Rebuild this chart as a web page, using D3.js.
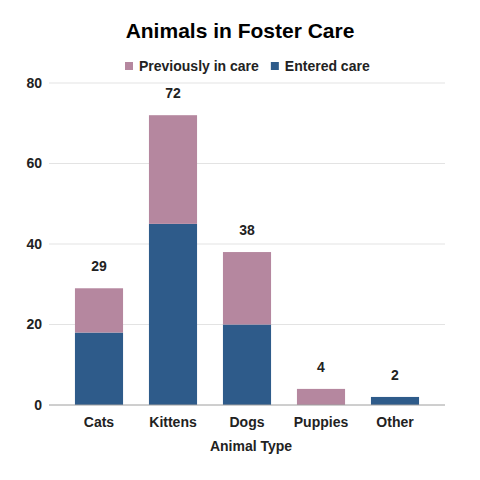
<!DOCTYPE html>
<html>
<head>
<meta charset="utf-8">
<script src="https://cdn.jsdelivr.net/npm/d3@7"></script>
<style>
  body { margin: 0; background: #fff; }
  text { font-family: "Liberation Sans", Arial, sans-serif; }
</style>
</head>
<body>
<svg id="chart" width="480" height="480"></svg>
<script>
const categories = ['Cats', 'Kittens', 'Dogs', 'Puppies', 'Other'];
const enteredCare = [18, 45, 20, 0, 2];
const previouslyInCare = [11, 27, 18, 4, 0];
const yTicks = [0, 20, 40, 60, 80];

const seriesNames = ['Previously in care', 'Entered care'];
const colors = { entered: '#2e5b8a', previous: '#b5879f' };

const svg = d3.select('#chart');

const x = d3.scaleBand()
    .domain(categories)
    .range([62, 432])
    .paddingInner(0.35)
    .paddingOuter(0.175);

const y = d3.scaleLinear()
    .domain([0, 80])
    .range([405, 83]);

// gridlines
svg.append('g')
    .selectAll('line')
    .data(yTicks.filter(d => d > 0))
    .enter()
    .append('line')
    .attr('x1', 49)
    .attr('x2', 445)
    .attr('y1', d => y(d))
    .attr('y2', d => y(d))
    .attr('stroke', '#e3e3e3')
    .attr('stroke-width', 1);

// y tick labels
svg.append('g')
    .selectAll('text')
    .data(yTicks)
    .enter()
    .append('text')
    .attr('x', 42)
    .attr('y', d => y(d))
    .attr('dy', '0.35em')
    .attr('text-anchor', 'end')
    .attr('font-size', 14)
    .attr('font-weight', 'bold')
    .attr('fill', '#222')
    .text(d => d);

const rows = categories.map((c, i) => ({
    cat: c,
    entered: enteredCare[i],
    previous: previouslyInCare[i]
}));

// entered care (bottom)
svg.append('g')
    .selectAll('rect')
    .data(rows.filter(d => d.entered > 0))
    .enter()
    .append('rect')
    .attr('x', d => x(d.cat))
    .attr('width', x.bandwidth())
    .attr('y', d => y(d.entered))
    .attr('height', d => y(0) - y(d.entered))
    .attr('fill', colors.entered);

// previously in care (top)
svg.append('g')
    .selectAll('rect')
    .data(rows.filter(d => d.previous > 0))
    .enter()
    .append('rect')
    .attr('x', d => x(d.cat))
    .attr('width', x.bandwidth())
    .attr('y', d => y(d.entered + d.previous))
    .attr('height', d => y(d.entered) - y(d.entered + d.previous))
    .attr('fill', colors.previous);

// totals
svg.append('g')
    .selectAll('text')
    .data(rows)
    .enter()
    .append('text')
    .attr('x', d => x(d.cat) + x.bandwidth() / 2)
    .attr('y', d => y(d.entered + d.previous) - 22)
    .attr('dy', '0.35em')
    .attr('text-anchor', 'middle')
    .attr('font-size', 14)
    .attr('font-weight', 'bold')
    .attr('fill', '#222')
    .text(d => d.entered + d.previous);

// baseline
svg.append('line')
    .attr('x1', 49)
    .attr('x2', 445)
    .attr('y1', y(0))
    .attr('y2', y(0))
    .attr('stroke', '#9e9e9e')
    .attr('stroke-width', 1);

// x tick labels
svg.append('g')
    .selectAll('text')
    .data(categories)
    .enter()
    .append('text')
    .attr('x', d => x(d) + x.bandwidth() / 2)
    .attr('y', 422)
    .attr('dy', '0.35em')
    .attr('text-anchor', 'middle')
    .attr('font-size', 14)
    .attr('font-weight', 'bold')
    .attr('fill', '#222')
    .text(d => d);

// axis title
svg.append('text')
    .attr('x', 251)
    .attr('y', 446)
    .attr('dy', '0.35em')
    .attr('text-anchor', 'middle')
    .attr('font-size', 14)
    .attr('font-weight', 'bold')
    .attr('fill', '#222')
    .text('Animal Type');

// title
svg.append('text')
    .attr('x', 240)
    .attr('y', 31)
    .attr('dy', '0.35em')
    .attr('text-anchor', 'middle')
    .attr('font-size', 21)
    .attr('font-weight', 'bold')
    .attr('fill', '#000')
    .text('Animals in Foster Care');

// legend
const legend = svg.append('g').attr('transform', 'translate(125, 66)');
const legendColors = [colors.previous, colors.entered];
let lx = 0;
seriesNames.forEach((name, i) => {
    const g = legend.append('g').attr('transform', `translate(${lx}, 0)`);
    g.append('rect')
        .attr('x', 0)
        .attr('y', -4)
        .attr('width', 8)
        .attr('height', 8)
        .attr('fill', legendColors[i]);
    const t = g.append('text')
        .attr('x', 14)
        .attr('dy', '0.35em')
        .attr('font-size', 14)
        .attr('font-weight', 'bold')
        .attr('fill', '#222')
        .text(name);
    lx += 14 + t.node().getComputedTextLength() + 12;
});
</script>
</body>
</html>
